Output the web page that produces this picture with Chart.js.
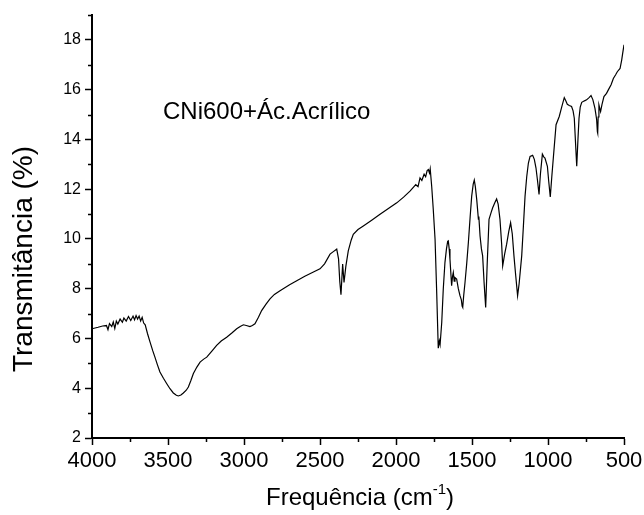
<!DOCTYPE html>
<html>
<head>
<meta charset="utf-8">
<script src="https://cdn.jsdelivr.net/npm/chart.js"></script>
<style>
  body { margin: 0; background: #fff; }
  canvas { display: block; }
</style>
</head>
<body>
<canvas id="myChart" width="644" height="515"></canvas>
<script>
// spectrum (wavenumber in cm-1, transmittance in %)
const waveNumbers = [4000, 3960, 3930, 3905, 3895, 3885, 3870, 3860, 3850, 3840, 3830, 3815, 3800, 3790, 3775, 3760, 3745, 3730, 3720, 3710, 3700, 3690, 3680, 3670, 3660, 3650,
  3635, 3618, 3600, 3586, 3570, 3553, 3530, 3509, 3487, 3465, 3445, 3432, 3415, 3399, 3380, 3366, 3350, 3333, 3310, 3289, 3265, 3245, 3210, 3180, 3150, 3114, 3080, 3048,
  3025, 3004, 2985, 2961, 2945, 2928, 2905, 2884, 2855, 2829, 2800, 2763, 2700, 2650, 2600, 2550, 2500, 2470, 2434, 2410, 2390, 2378, 2370, 2362, 2351, 2342, 2330, 2314,
  2295, 2281, 2250, 2215, 2160, 2105, 2050, 1995, 1950, 1908, 1870, 1855, 1842, 1830, 1815, 1805, 1795, 1787, 1780, 1775, 1765, 1755, 1743, 1732, 1722, 1715, 1710, 1699,
  1689, 1678, 1668, 1660, 1656, 1650, 1645, 1640, 1634, 1628, 1623, 1617, 1612, 1601, 1590, 1579, 1570, 1565, 1561, 1555, 1546, 1535, 1524, 1512, 1502, 1492, 1485, 1478,
  1469, 1458, 1455, 1447, 1438, 1430, 1420, 1410, 1400, 1388, 1375, 1364, 1350, 1338, 1328, 1316, 1305, 1298, 1285, 1272, 1258, 1246, 1235, 1224, 1212, 1200, 1190, 1173,
  1162, 1151, 1140, 1129, 1118, 1101, 1090, 1079, 1070, 1059, 1050, 1037, 1028, 1020, 1004, 995, 985, 975, 965, 947, 926, 910, 893, 883, 873, 860, 845, 835, 827, 820,
  811, 803, 796, 788, 778, 760, 746, 730, 717, 705, 691, 680, 675, 673, 670, 665, 654, 645, 632, 615, 603, 585, 570, 555, 544, 526, 515, 509, 500];
const transmittance = [6.39, 6.45, 6.50, 6.52, 6.35, 6.60, 6.48, 6.66, 6.40, 6.70, 6.58, 6.78, 6.65, 6.82, 6.70, 6.88, 6.72, 6.90, 6.75, 6.92, 6.78, 6.90, 6.70, 6.85, 6.62, 6.55,
  6.2, 5.85, 5.5, 5.25, 4.95, 4.65, 4.4, 4.19, 3.98, 3.81, 3.72, 3.69, 3.73, 3.81, 3.92, 4.05, 4.3, 4.59, 4.85, 5.05, 5.17, 5.25, 5.5, 5.72, 5.9, 6.05, 6.22, 6.39,
  6.48, 6.55, 6.52, 6.48, 6.52, 6.59, 6.85, 7.12, 7.38, 7.59, 7.77, 7.92, 8.16, 8.33, 8.5, 8.65, 8.8, 9.0, 9.39, 9.5, 9.59, 9.2, 8.3, 7.76, 8.99, 8.25, 8.9, 9.52,
  9.95, 10.19, 10.38, 10.52, 10.75, 10.99, 11.22, 11.45, 11.68, 11.92, 12.18, 12.1, 12.45, 12.35, 12.6, 12.5, 12.75, 12.79, 12.65, 12.82, 12.1, 11.2, 9.99, 7.8, 5.61, 5.9, 5.75, 6.65,
  7.99, 9.05, 9.6, 9.9, 9.92, 9.6, 9.19, 8.7, 8.12, 8.5, 8.65, 8.3, 8.45, 8.39, 8.0, 7.72, 7.55, 7.3, 7.25, 7.7, 8.25, 9.0, 9.85, 10.9, 11.72, 12.2, 12.36, 12.1,
  11.59, 10.8, 10.9, 10.12, 9.6, 9.32, 8.2, 7.25, 9.0, 10.79, 11.05, 11.25, 11.45, 11.61, 11.4, 10.79, 9.8, 8.92, 9.4, 9.79, 10.3, 10.65, 10.2, 9.32, 8.5, 7.72, 8.2, 9.32,
  10.5, 11.72, 12.5, 13.05, 13.32, 13.36, 13.2, 12.85, 12.4, 11.79, 12.6, 13.41, 13.3, 13.25, 12.92, 12.3, 11.69, 12.5, 13.25, 14.59, 14.92, 15.3, 15.68, 15.55, 15.41, 15.36, 15.32, 15.15, 14.85, 14.0,
  12.92, 14.0, 14.85, 15.3, 15.49, 15.55, 15.59, 15.68, 15.76, 15.6, 15.25, 14.8, 14.3, 14.25, 14.9, 15.39, 15.12, 15.4, 15.72, 15.85, 15.99, 16.2, 16.45, 16.6, 16.72, 16.85, 17.2, 17.45, 17.8];

const xMinorTicks = [3750, 3250, 2750, 2250, 1750, 1250, 750];
const yMinorTicks = [3, 5, 7, 9, 11, 13, 15, 17, 19];
const sampleLabel = "CNi600+Ác.Acrílico";

const points = [];
for (let i = 0; i < waveNumbers.length; i++) {
  points.push({ x: waveNumbers[i], y: transmittance[i] });
}

const FONT = "'Liberation Sans', Arial, sans-serif";

// minor ticks, axis titles and the sample label
const extras = {
  id: "extras",
  afterDraw(chart) {
    const ctx = chart.ctx;
    const xs = chart.scales.x;
    const ys = chart.scales.y;
    const area = chart.chartArea;
    ctx.save();
    ctx.strokeStyle = "#000";
    ctx.lineWidth = 1.5;
    ctx.beginPath();
    xMinorTicks.forEach(v => {
      const px = Math.round(xs.getPixelForValue(v)) + 0.5;
      ctx.moveTo(px, area.bottom);
      ctx.lineTo(px, area.bottom + 4);
    });
    yMinorTicks.forEach(v => {
      const py = Math.round(ys.getPixelForValue(v)) + 0.5;
      ctx.moveTo(area.left, py);
      ctx.lineTo(area.left - 4, py);
    });
    ctx.stroke();

    ctx.fillStyle = "#000";
    ctx.textBaseline = "alphabetic";

    // x title with superscript
    ctx.font = "24px " + FONT;
    const main = "Frequência (cm";
    const sup = "-1";
    const close = ")";
    const w1 = ctx.measureText(main).width;
    ctx.font = "15px " + FONT;
    const w2 = ctx.measureText(sup).width;
    ctx.font = "24px " + FONT;
    const w3 = ctx.measureText(close).width;
    let tx = 360 - (w1 + w2 + w3) / 2;
    const ty = 505;
    ctx.textAlign = "left";
    ctx.fillText(main, tx, ty);
    ctx.font = "15px " + FONT;
    ctx.fillText(sup, tx + w1, ty - 11);
    ctx.font = "24px " + FONT;
    ctx.fillText(close, tx + w1 + w2, ty);

    // y title
    ctx.save();
    ctx.translate(32, 259);
    ctx.rotate(-Math.PI / 2);
    ctx.textAlign = "center";
    ctx.font = "28px " + FONT;
    ctx.fillText("Transmitância (%)", 0, 0);
    ctx.restore();

    // sample label
    ctx.textAlign = "left";
    ctx.font = "24px " + FONT;
    ctx.fillText(sampleLabel, 163, 119);
    ctx.restore();
  }
};

new Chart("myChart", {
  type: "line",
  data: {
    datasets: [{
      data: points,
      borderColor: "#000",
      borderWidth: 1.2,
      pointRadius: 0,
      tension: 0,
      fill: false
    }]
  },
  options: {
    responsive: false,
    animation: false,
    devicePixelRatio: 1,
    layout: { padding: { top: 15, right: 20, left: 0, bottom: 0 } },
    plugins: {
      legend: { display: false },
      tooltip: { enabled: false }
    },
    scales: {
      x: {
        type: "linear",
        reverse: true,
        min: 500,
        max: 4000,
        afterFit: s => { s.height = 77; s.paddingRight = 0; s.paddingLeft = 0; },
        border: { display: true, color: "#000", width: 2 },
        grid: { drawOnChartArea: false, drawTicks: true, tickLength: 7, tickColor: "#000", tickWidth: 1.5 },
        ticks: { stepSize: 500, color: "#000", font: { family: FONT, size: 22 }, padding: 3, maxRotation: 0, autoSkip: false,
          callback: v => String(v) }
      },
      y: {
        min: 2,
        max: 19,
        afterFit: s => { s.width = 92; },
        border: { display: true, color: "#000", width: 2 },
        grid: { drawOnChartArea: false, drawTicks: true, tickLength: 7, tickColor: "#000", tickWidth: 1.5 },
        ticks: { stepSize: 2, includeBounds: false, color: "#000", font: { family: FONT, size: 16 }, padding: 4 }
      }
    }
  },
  plugins: [extras]
});
</script>
</body>
</html>
